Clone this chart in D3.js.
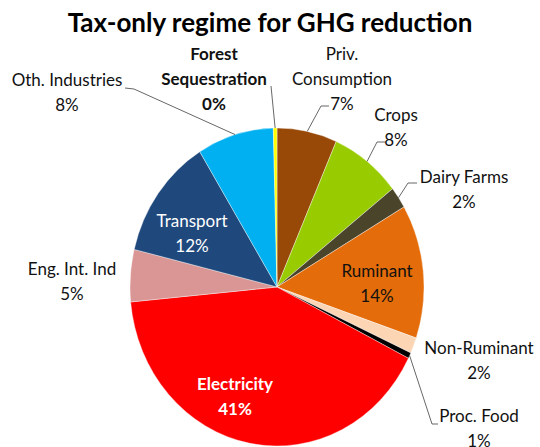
<!DOCTYPE html>
<html lang="en">
<head>
<meta charset="utf-8">
<title>Tax-only regime for GHG reduction</title>
<script src="https://d3js.org/d3.v7.min.js"></script>
<style>
  body { margin: 0; background: #fff; }
  text { font-family: Lato, "Open Sans", sans-serif; }
</style>
</head>
<body>
<script>
// slice data, clockwise from 12 o'clock
var sectors = ["Priv. Consumption", "Crops", "Dairy Farms", "Ruminant", "Non-Ruminant",
               "Proc. Food", "Electricity", "Eng. Int. Ind", "Transport", "Oth. Industries",
               "Forest Sequestration"];
var shares = [6.6, 7.8, 2.2, 13.6, 1.6, 0.6, 41.1, 5.3, 12.4, 8.4, 0.4];
var colors = ["#984807", "#99cc00", "#4a452a", "#e46c0a", "#fcd5b5", "#000000",
              "#ff0000", "#d99694", "#1f497d", "#00b0f0", "#ffff00"];
var labelLines = [["Priv.", "Consumption"], ["Crops"], ["Dairy Farms"], ["Ruminant"], ["Non-Ruminant"],
                  ["Proc. Food"], ["Electricity"], ["Eng. Int. Ind"], ["Transport"], ["Oth. Industries"],
                  ["Forest", "Sequestration"]];

var width = 540, height = 447;
var cx = 277, cy = 287, ry = 159, rx = 147;

// label layout: anchor (x, first baseline), text colour, bold, leader polyline end points
var layout = [
  {x: 342, y: 60,  fill: "#111", bold: false, leader: [[321, 106], [329, 106]]},
  {x: 396, y: 121, fill: "#111", bold: false, leader: [[377, 142], [385, 142]]},
  {x: 464, y: 183, fill: "#111", bold: false, leader: [[408, 183], [417, 183]]},
  {x: 377, y: 277, fill: "#111", bold: false},
  {x: 479, y: 354, fill: "#111", bold: false},
  {x: 479, y: 422, fill: "#111", bold: false, leader: [[432, 424], [438, 424]]},
  {x: 235, y: 390, fill: "#ffffff", bold: true},
  {x: 72,  y: 275, fill: "#111", bold: false},
  {x: 192, y: 227, fill: "#ffffff", bold: false},
  {x: 67,  y: 86,  fill: "#111", bold: false, leader: [[134, 89], [125, 88]]},
  {x: 214, y: 60,  fill: "#111", bold: true,  leader: [[271, 86]]}
];
var lineH = 25;

var data = sectors.map(function(s, i) {
  return {name: s, value: shares[i], color: colors[i], lines: labelLines[i], lay: layout[i]};
});

var svg = d3.select("body").append("svg")
  .attr("width", width)
  .attr("height", height);

svg.append("text")
  .attr("x", 270)
  .attr("y", 32)
  .attr("text-anchor", "middle")
  .attr("font-size", 26)
  .attr("font-weight", "bold")
  .attr("fill", "#000")
  .text("Tax-only regime for GHG reduction");

var pie = d3.pie().sort(null).value(function(d) { return d.value; });
var arcs = pie(data);

var arc = d3.arc().innerRadius(0).outerRadius(ry);

// slightly elliptical pie: squeeze horizontally
svg.append("g")
  .attr("transform", "translate(" + cx + "," + cy + ") scale(" + (rx / ry) + ",1)")
  .selectAll("path")
  .data(arcs)
  .enter().append("path")
  .attr("d", arc)
  .attr("fill", function(d) { return d.data.color; })
  .attr("stroke", "#fff")
  .attr("stroke-width", 0.4);

function edgePoint(d) {
  var a = (d.startAngle + d.endAngle) / 2;
  return [cx + rx * Math.sin(a), cy - ry * Math.cos(a)];
}

var line = d3.line();
svg.append("g")
  .selectAll("path")
  .data(arcs.filter(function(d) { return d.data.lay.leader; }))
  .enter().append("path")
  .attr("d", function(d) { return line([edgePoint(d)].concat(d.data.lay.leader)); })
  .attr("fill", "none")
  .attr("stroke", "#404040")
  .attr("stroke-width", 0.8);

var labels = svg.append("g")
  .selectAll("text")
  .data(arcs)
  .enter().append("text")
  .attr("text-anchor", "middle")
  .attr("font-size", 17)
  .attr("fill", function(d) { return d.data.lay.fill; })
  .attr("font-weight", function(d) { return d.data.lay.bold ? "bold" : "normal"; });

labels.each(function(d) {
  var t = d3.select(this);
  var rows = d.data.lines.concat([Math.round(d.data.value) + "%"]);
  rows.forEach(function(r, i) {
    t.append("tspan")
      .attr("x", d.data.lay.x)
      .attr("y", d.data.lay.y + i * lineH)
      .text(r);
  });
});
</script>
</body>
</html>
